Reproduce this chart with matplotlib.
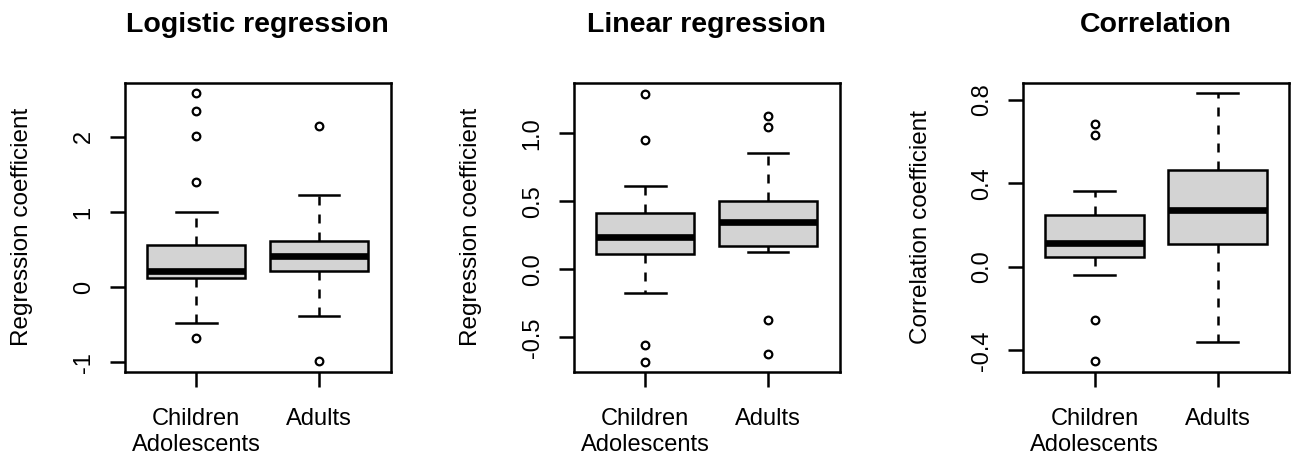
import matplotlib
matplotlib.use("Agg")
import matplotlib.pyplot as plt
from matplotlib import transforms

plt.rcParams['font.family'] = ['Liberation Sans', 'DejaVu Sans']

groups = ["Children\nAdolescents", "Adults"]
titles = ["Logistic regression", "Linear regression", "Correlation"]
ylabels = ["Regression coefficient", "Regression coefficient", "Correlation coefficient"]

# logistic regression: [children, adults]
logit_q1 = [0.116, 0.213]
logit_med = [0.22, 0.418]
logit_q3 = [0.556, 0.62]
logit_lo = [-0.476, -0.383]
logit_hi = [1.0, 1.227]
logit_out = [[2.58, 2.35, 2.01, 1.40, -0.676], [2.15, -0.99]]

# linear regression
lin_q1 = [0.1125, 0.174]
lin_med = [0.2375, 0.345]
lin_q3 = [0.416, 0.5]
lin_lo = [-0.172, 0.125]
lin_hi = [0.6125, 0.853]
lin_out = [[1.291, 0.951, -0.554, -0.679], [1.127, 1.046, -0.37, -0.625]]

# correlation
cor_q1 = [0.045, 0.110]
cor_med = [0.1135, 0.272]
cor_q3 = [0.246, 0.463]
cor_lo = [-0.04, -0.362]
cor_hi = [0.364, 0.831]
cor_out = [[0.684, 0.629, -0.257, -0.453], []]

yticks = [[-1, 0, 1, 2], [-0.5, 0.0, 0.5, 1.0], [-0.4, 0.0, 0.4, 0.8]]
yticklabels = [["-1", "0", "1", "2"], ["-0.5", "0.0", "0.5", "1.0"],
               ["-0.4", "0.0", "0.4", "0.8"]]
ylims = [(-1.13, 2.72), (-0.755, 1.372), (-0.504, 0.881)]

panels = [
    (logit_q1, logit_med, logit_q3, logit_lo, logit_hi, logit_out),
    (lin_q1, lin_med, lin_q3, lin_lo, lin_hi, lin_out),
    (cor_q1, cor_med, cor_q3, cor_lo, cor_hi, cor_out),
]

fig = plt.figure(figsize=(12.96, 4.58), dpi=100)
lefts = [125, 574, 1023.3]
W, H = 1296.0, 458.0
lw = 1.8

for k in range(3):
    q1, med, q3, lo, hi, out = panels[k]
    ax = fig.add_axes([lefts[k] / W, 1 - 372 / H, 265.5 / W, (372 - 82.7) / H])
    stats = []
    for i in range(2):
        stats.append(dict(med=med[i], q1=q1[i], q3=q3[i], whislo=lo[i],
                          whishi=hi[i], fliers=out[i], label=groups[i]))
    ax.bxp(stats, positions=[1, 2], widths=0.8, patch_artist=True,
           boxprops=dict(facecolor='#d3d3d3', edgecolor='black', linewidth=lw),
           medianprops=dict(color='black', linewidth=4.8, solid_capstyle='butt'),
           whiskerprops=dict(color='black', linewidth=lw, linestyle=(0, (3.6, 3.6))),
           capprops=dict(color='black', linewidth=lw),
           capwidths=0.33,
           flierprops=dict(marker='o', markersize=5.5, markerfacecolor='none',
                           markeredgecolor='black', markeredgewidth=1.6))
    ax.set_xlim(0.42, 2.58)
    ax.set_ylim(*ylims[k])
    ax.set_yticks(yticks[k])
    ax.set_yticklabels(yticklabels[k], rotation=90, va='center', fontsize=17)
    ax.set_xticks([1, 2])
    ax.set_xticklabels(groups, fontsize=17, va='top', linespacing=1.25)
    ax.tick_params(direction='out', length=10.8, width=lw, pad=11)
    ax.tick_params(axis='x', pad=15)
    for s in ax.spines.values():
        s.set_linewidth(lw)
    ax.text(-0.387, 0.5, ylabels[k], transform=ax.transAxes, rotation=90,
            ha='center', va='center', fontsize=17.5)
    # title: x in axes coords, y in figure coords
    tt = transforms.blended_transform_factory(ax.transAxes, fig.transFigure)
    ax.text(0.5, 1 - 32 / H, titles[k], transform=tt, fontsize=20.5,
            fontweight='bold', ha='center', va='baseline')

fig.savefig("out.png", dpi=100, facecolor='white')
